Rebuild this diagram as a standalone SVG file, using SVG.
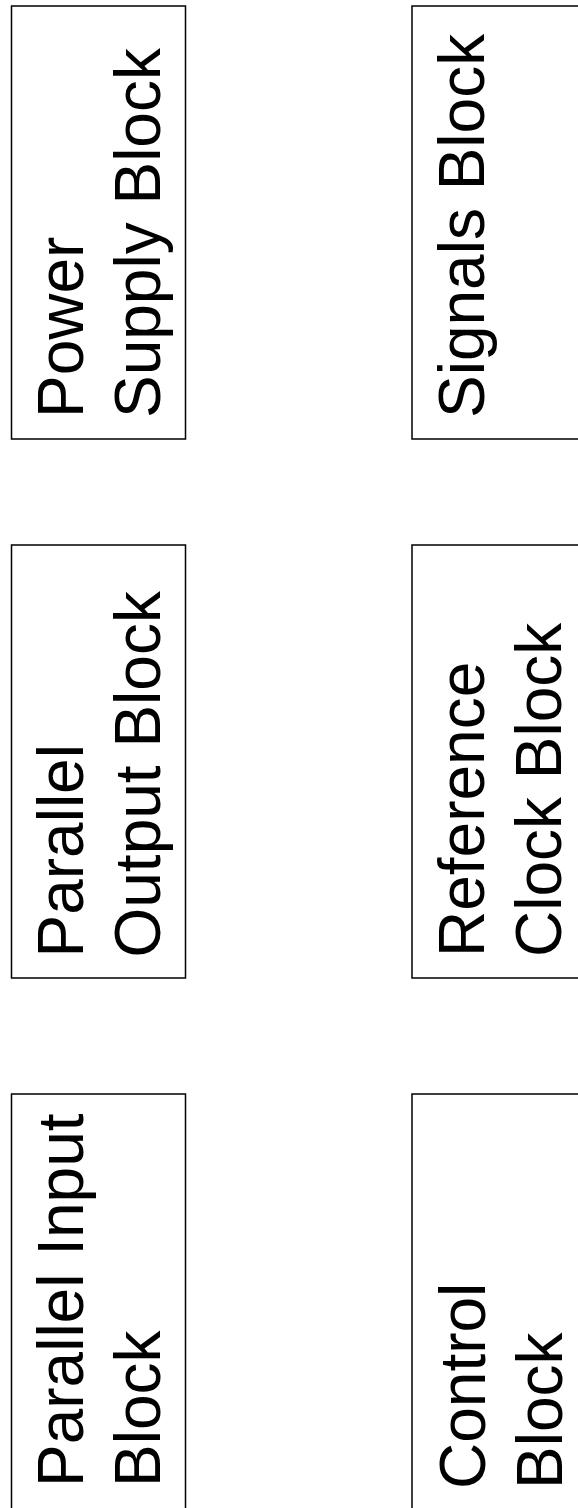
<svg xmlns="http://www.w3.org/2000/svg" width="578" height="1508" viewBox="0 0 578 1508">
<style>
.box{fill:#fff;stroke:#000;stroke-width:1.5}
.lbl{font-family:"Liberation Sans",Arial,sans-serif;font-size:64px;fill:#000}
</style>
<rect width="578" height="1508" fill="#fff"/>
<g id="connectors"/>
<g id="power-supply">
<rect class="box" x="11.5" y="6" width="174" height="433"/>
<text class="lbl" transform="translate(83,418) rotate(-90)"><tspan x="0" y="0">Power</tspan><tspan x="0" dy="77">Supply Block</tspan></text>
</g>
<g id="signals">
<rect class="box" x="412" y="6" width="174" height="433"/>
<text class="lbl" transform="translate(483.5,418) rotate(-90)"><tspan x="0" y="0">Signals Block</tspan></text>
</g>
<g id="parallel-output">
<rect class="box" x="11.5" y="545" width="174" height="433"/>
<text class="lbl" transform="translate(83,957.5) rotate(-90)"><tspan x="0" y="0">Parallel</tspan><tspan x="0" dy="77">Output Block</tspan></text>
</g>
<g id="reference-clock">
<rect class="box" x="412" y="545" width="174" height="433"/>
<text class="lbl" transform="translate(483.5,957) rotate(-90)"><tspan x="0" y="0">Reference</tspan><tspan x="0" dy="77">Clock Block</tspan></text>
</g>
<g id="parallel-input">
<rect class="box" x="11.5" y="1094" width="174" height="433"/>
<text class="lbl" transform="translate(83,1487) rotate(-90)"><tspan x="0" y="0">Parallel Input</tspan><tspan x="0" dy="77">Block</tspan></text>
</g>
<g id="control">
<rect class="box" x="412" y="1094" width="174" height="433"/>
<text class="lbl" transform="translate(484.5,1489) rotate(-90)"><tspan x="0" y="0">Control</tspan><tspan x="0" dy="77">Block</tspan></text>
</g>
</svg>
